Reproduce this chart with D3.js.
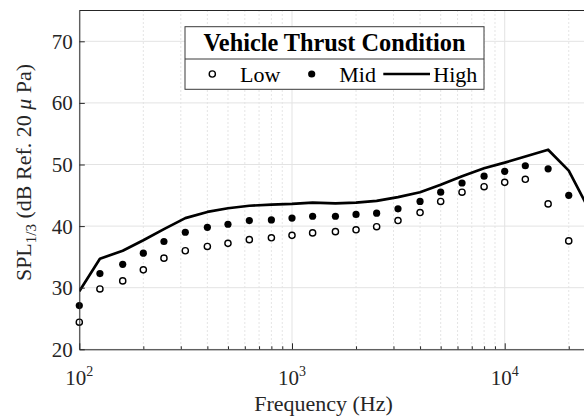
<!DOCTYPE html>
<html>
<head>
<meta charset="utf-8">
<script src="https://cdn.jsdelivr.net/npm/d3@7"></script>
<style>
  html, body { margin: 0; padding: 0; background: #fff; }
  svg { display: block; font-family: "Liberation Serif", "Times New Roman", serif; }
</style>
</head>
<body>
<svg id="chart" width="584" height="416"></svg>
<script>
// One-third octave band centre frequencies (Hz)
const freqs = [100, 125, 160, 200, 250, 315, 400, 500, 630, 800, 1000, 1250, 1600,
               2000, 2500, 3150, 4000, 5000, 6300, 8000, 10000, 12500, 16000, 20000];
// SPL per band for each thrust condition (dB re 20 uPa)
const lowSPL = [24.4, 29.8, 31.1, 32.9, 34.8, 36.0, 36.7, 37.2, 37.8, 38.1, 38.5, 38.9,
                39.1, 39.4, 39.9, 40.9, 42.2, 44.0, 45.5, 46.4, 47.1, 47.6, 43.6, 37.6];
const midSPL = [27.1, 32.3, 33.8, 35.6, 37.5, 39.0, 39.8, 40.3, 40.9, 41.0, 41.3, 41.6,
                41.6, 41.9, 42.1, 42.8, 44.0, 45.5, 47.0, 48.1, 48.9, 49.8, 49.3, 45.0];
const highFreqs = freqs.concat([25000]);
const highSPL = [29.4, 34.7, 36.0, 37.7, 39.5, 41.3, 42.3, 42.9, 43.3, 43.5, 43.6, 43.8,
                 43.7, 43.8, 44.1, 44.7, 45.5, 46.7, 48.1, 49.4, 50.3, 51.3, 52.4, 49.0, 42.6];
// Axis ticks
const yTicks = [20, 30, 40, 50, 60, 70];
const xMajor = [100, 1000, 10000];
const xExponents = ["2", "3", "4"];
const xMinor = [200, 300, 400, 500, 600, 700, 800, 900,
                2000, 3000, 4000, 5000, 6000, 7000, 8000, 9000, 20000];
const seriesNames = ["Low", "Mid", "High"];
const legendTitle = "Vehicle Thrust Condition";

const svg = d3.select("#chart");
const ink = "#262626";

const x = d3.scaleLog().domain([100, 25000]).range([79.3, 589.35]);
const y = d3.scaleLinear().domain([20, 75]).range([349.3, 10.5]);
const [x0, x1] = x.range();
const [yB, yT] = y.range();

// Grid
const grid = svg.append("g");
grid.selectAll("line.minor").data(xMinor).join("line")
  .attr("x1", d => x(d)).attr("x2", d => x(d)).attr("y1", yT).attr("y2", yB)
  .attr("stroke", "#bdbdbd").attr("stroke-width", 0.8).attr("stroke-dasharray", "1,3");
grid.selectAll("line.vmaj").data(xMajor).join("line")
  .attr("x1", d => x(d)).attr("x2", d => x(d)).attr("y1", yT).attr("y2", yB)
  .attr("stroke", "#e3e3e3").attr("stroke-width", 1);
grid.selectAll("line.hmaj").data(yTicks).join("line")
  .attr("x1", x0).attr("x2", x1).attr("y1", d => y(d)).attr("y2", d => y(d))
  .attr("stroke", "#e3e3e3").attr("stroke-width", 1);

// Plot area clip (used for the line only; markers stay whole at the edges)
svg.append("clipPath").attr("id", "plotclip").append("rect")
  .attr("x", x0).attr("y", yT).attr("width", x1 - x0).attr("height", yB - yT);

// High: solid line
svg.append("path")
  .attr("clip-path", "url(#plotclip)")
  .datum(highFreqs.map((f, i) => [f, highSPL[i]]))
  .attr("fill", "none").attr("stroke", "#000").attr("stroke-width", 2.7)
  .attr("stroke-linejoin", "round")
  .attr("d", d3.line().x(d => x(d[0])).y(d => y(d[1])));

// Mid: filled dots
svg.append("g").selectAll("circle").data(freqs).join("circle")
  .attr("cx", d => x(d)).attr("cy", (d, i) => y(midSPL[i])).attr("r", 3.6)
  .attr("fill", "#000");

// Low: open circles
svg.append("g").selectAll("circle").data(freqs).join("circle")
  .attr("cx", d => x(d)).attr("cy", (d, i) => y(lowSPL[i])).attr("r", 3.1)
  .attr("fill", "#fff").attr("stroke", "#000").attr("stroke-width", 1.4);

// Axes
const yAxis = d3.axisLeft(y).tickValues(yTicks).tickSizeInner(-5.5).tickSizeOuter(0).tickPadding(12);
const gy = svg.append("g").attr("transform", `translate(${x0},0)`).call(yAxis);
gy.select(".domain").attr("stroke", ink).attr("stroke-width", 1);
gy.selectAll(".tick line").attr("stroke", ink);
gy.selectAll(".tick text").attr("font-size", 21).attr("fill", ink)
  .attr("font-family", "Liberation Serif, serif").attr("x", -6.5).attr("dy", "0.33em");

const xAxis = d3.axisBottom(x).tickValues(xMajor).tickSizeInner(-6).tickSizeOuter(0).tickFormat("");
const gx = svg.append("g").attr("transform", `translate(0,${yB})`).call(xAxis);
gx.select(".domain").attr("stroke", ink).attr("stroke-width", 1);
gx.selectAll(".tick line").attr("stroke", ink);
const xAxisMinor = d3.axisBottom(x).tickValues(xMinor).tickSizeInner(-3).tickSizeOuter(0).tickFormat("");
const gxm = svg.append("g").attr("transform", `translate(0,${yB})`).call(xAxisMinor);
gxm.select(".domain").remove();
gxm.selectAll(".tick line").attr("stroke", ink);

// Power-of-ten tick labels
const xl = svg.append("g").selectAll("text").data(xMajor).join("text")
  .attr("x", d => x(d)).attr("y", 385).attr("text-anchor", "middle")
  .attr("font-size", 21).attr("fill", ink);
xl.append("tspan").text("10");
xl.append("tspan").attr("font-size", 14).attr("dy", -9).text((d, i) => xExponents[i]);

// Top frame line
svg.append("line").attr("x1", x0).attr("x2", x1).attr("y1", yT).attr("y2", yT)
  .attr("stroke", ink).attr("stroke-width", 1);

// Axis titles
svg.append("text").attr("x", 323.5).attr("y", 411).attr("text-anchor", "middle")
  .attr("font-size", 22).attr("fill", ink).text("Frequency (Hz)");

const yl = svg.append("text").attr("transform", "translate(31,172.5) rotate(-90)")
  .attr("text-anchor", "middle").attr("font-size", 22).attr("fill", ink);
yl.append("tspan").text("SPL");
yl.append("tspan").attr("font-size", 15).attr("dy", 5).text("1/3");
yl.append("tspan").attr("dy", -5).text(" (dB Ref. 20 ");
yl.append("tspan").attr("font-style", "italic").text("μ");
yl.append("tspan").text(" Pa)");

// Legend
const lg = svg.append("g");
const lx = 185, ly = 26.7, lw = 299, lh = 62.6, ldiv = 59;
lg.append("rect").attr("x", lx).attr("y", ly).attr("width", lw).attr("height", lh)
  .attr("fill", "#fff").attr("stroke", "#3a3a3a").attr("stroke-width", 1);
lg.append("line").attr("x1", lx).attr("x2", lx + lw).attr("y1", ldiv).attr("y2", ldiv)
  .attr("stroke", "#3a3a3a").attr("stroke-width", 1);
lg.append("text").attr("x", lx + lw / 2).attr("y", 50.5).attr("text-anchor", "middle")
  .attr("font-size", 24.3).attr("font-weight", "bold").attr("fill", "#000").text(legendTitle);

const rowY = 74;
lg.append("circle").attr("cx", 212.3).attr("cy", rowY).attr("r", 3.1)
  .attr("fill", "#fff").attr("stroke", "#000").attr("stroke-width", 1.4);
lg.append("text").attr("x", 240).attr("y", 82).attr("font-size", 22).attr("fill", "#000").text(seriesNames[0]);
lg.append("circle").attr("cx", 311.7).attr("cy", rowY).attr("r", 3.6).attr("fill", "#000");
lg.append("text").attr("x", 339.3).attr("y", 82).attr("font-size", 22).attr("fill", "#000").text(seriesNames[1]);
lg.append("line").attr("x1", 383.3).attr("x2", 430).attr("y1", rowY).attr("y2", rowY)
  .attr("stroke", "#000").attr("stroke-width", 2.7);
lg.append("text").attr("x", 433.3).attr("y", 82).attr("font-size", 22).attr("fill", "#000").text(seriesNames[2]);
</script>
</body>
</html>
